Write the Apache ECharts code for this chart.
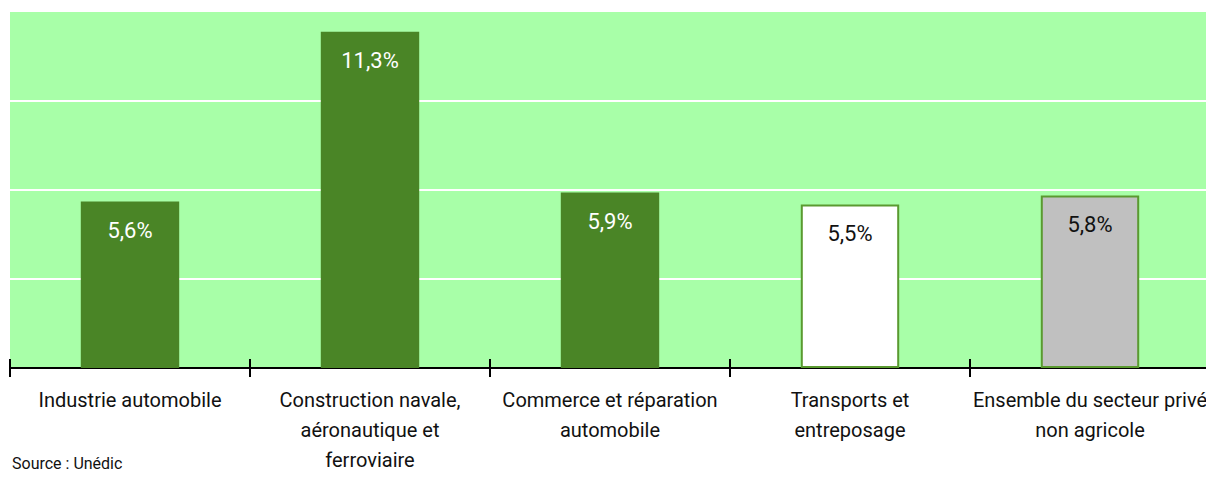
<!DOCTYPE html>
<html>
<head>
<meta charset="utf-8">
<title>ECharts</title>
<script src="https://cdn.jsdelivr.net/npm/echarts@6/dist/echarts.min.js"></script>
<style>
  html, body { margin: 0; padding: 0; background: #fff; }
</style>
</head>
<body>
<div id="main" style="width:1206px;height:477px;"></div>
<script type="text/javascript">
var categories = [
  'Industrie automobile',
  'Construction navale,\naéronautique et\nferroviaire',
  'Commerce et réparation\nautomobile',
  'Transports et\nentreposage',
  'Ensemble du secteur privé\nnon agricole'
];
var values = [5.6, 11.3, 5.9, 5.5, 5.8];
var barColors = ['#4a8526', '#4a8526', '#4a8526', '#ffffff', '#c0c0c0'];
var labelColors = ['#ffffff', '#ffffff', '#ffffff', '#111111', '#111111'];
var sourceText = 'Source : Unédic';

var font = 'Roboto, "Liberation Sans Narrow", sans-serif';

var myChart = echarts.init(document.getElementById('main'), null, { renderer: 'svg' });

var seriesData = values.map(function (v, i) {
  return {
    value: v,
    itemStyle: {
      color: barColors[i],
      borderColor: i >= 3 ? '#5a9a30' : barColors[i],
      borderWidth: i >= 3 ? 2 : 0
    },
    label: { color: labelColors[i] }
  };
});

var option = {
  animation: false,
  textStyle: { fontFamily: font },
  grid: {
    left: 10,
    width: 1200,
    top: 11,
    bottom: 109,
    outerBoundsMode: 'none',
    containLabel: false,
    show: true,
    backgroundColor: '#a8ffa8',
    borderWidth: 0
  },
  graphic: [{
    type: 'text',
    left: 12,
    top: 455,
    style: { text: sourceText, font: '16px ' + font, fill: '#111' }
  }],
  xAxis: [
    {
      type: 'category',
      data: categories,
      boundaryGap: true,
      axisLine: { lineStyle: { color: '#000', width: 2 } },
      axisTick: { show: true, length: 9, lineStyle: { color: '#000', width: 2 } },
      axisLabel: {
        interval: 0,
        color: '#111',
        fontSize: 20,
        lineHeight: 30,
        margin: 17,
        fontFamily: font
      }
    },
    {
      type: 'category',
      data: categories,
      position: 'bottom',
      boundaryGap: true,
      axisLine: { show: false },
      axisTick: { show: true, inside: true, length: 9, lineStyle: { color: '#000', width: 2 } },
      axisLabel: { show: false }
    }
  ],
  yAxis: {
    type: 'value',
    min: 0,
    max: 12,
    interval: 3,
    axisLine: { show: false },
    axisTick: { show: false },
    axisLabel: { show: false },
    splitLine: { show: true, lineStyle: { color: '#ffffff', width: 2 } }
  },
  series: [{
    type: 'bar',
    barWidth: '41%',
    data: seriesData,
    label: {
      show: true,
      position: 'insideTop',
      distance: 18,
      fontSize: 22,
      fontFamily: font,
      formatter: function (p) {
        return String(p.value).replace('.', ',') + '%';
      }
    }
  }]
};

myChart.setOption(option);
</script>
</body>
</html>
